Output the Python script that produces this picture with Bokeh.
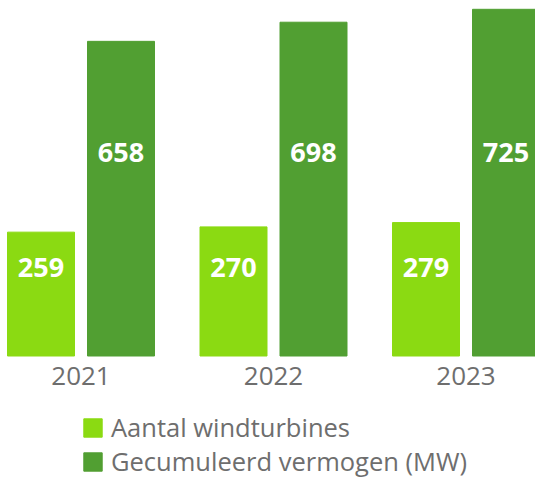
from bokeh.plotting import figure
from bokeh.models import Range1d, ColumnDataSource
from bokeh.core.properties import value
from bokeh.transform import dodge
from bokeh.embed import file_html
from bokeh.resources import INLINE

# ---- data ----
years = ["2021", "2022", "2023"]
turbines = [259, 270, 279]
capacity = [658, 698, 725]
series_names = ["Aantal windturbines", "Gecumuleerd vermogen (MW)"]

LIGHT = "#8BDA12"
DARK = "#519F32"
GRAY = "#6E6E6E"
FONT = "Open Sans"

idx = list(range(len(years)))
src = ColumnDataSource(dict(
    x=idx, years=years,
    turbines=turbines, capacity=capacity,
    tlab=[str(v) for v in turbines], clab=[str(v) for v in capacity],
    zero=[0] * len(years),
))

W, H = 535, 477
group_px = 192.5
first_center_px = 80.5
baseline_px = 355.5
px_per_unit = 0.4782

p = figure(width=W, height=H, output_backend="svg", toolbar_location=None,
           x_range=Range1d(-first_center_px / group_px, (W - first_center_px) / group_px),
           y_range=Range1d(-(H - baseline_px) / px_per_unit, baseline_px / px_per_unit),
           min_border=0, x_axis_location=None, y_axis_location=None)
p.outline_line_color = None
p.grid.visible = False
p.background_fill_color = "white"

bw = 67 / group_px
off = 40 / group_px

p.vbar(x=dodge("x", -off, range=p.x_range), top="turbines", width=bw, source=src,
       color=LIGHT, legend_label=series_names[0])
p.vbar(x=dodge("x", off, range=p.x_range), top="capacity", width=bw, source=src,
       color=DARK, legend_label=series_names[1])

# value labels
p.text(x=dodge("x", -off, range=p.x_range), y="zero", text="tlab", source=src,
       y_offset=-89, text_align="center", text_baseline="middle",
       text_font=value(FONT), text_font_style="bold", text_font_size="27px",
       text_color="white")
p.text(x=dodge("x", off, range=p.x_range), y="zero", text="clab", source=src,
       y_offset=-204, text_align="center", text_baseline="middle",
       text_font=value(FONT), text_font_style="bold", text_font_size="27px",
       text_color="white")

# year labels
p.text(x="x", y="zero", text="years", source=src,
       y_offset=20, text_align="center", text_baseline="middle",
       text_font=value(FONT), text_font_size="26px", text_color=GRAY)

lg = p.legend[0]
lg.location = (81, -1)
lg.orientation = "vertical"
lg.padding = 0
lg.margin = 0
lg.border_line_color = None
lg.background_fill_alpha = 0
lg.glyph_width = 23
lg.glyph_height = 23
lg.label_height = 23
lg.spacing = -5
lg.label_standoff = 7
lg.label_text_font = FONT
lg.label_text_font_size = "25.5px"
lg.label_text_color = GRAY

open("out.html", "w").write(file_html(p, INLINE))
